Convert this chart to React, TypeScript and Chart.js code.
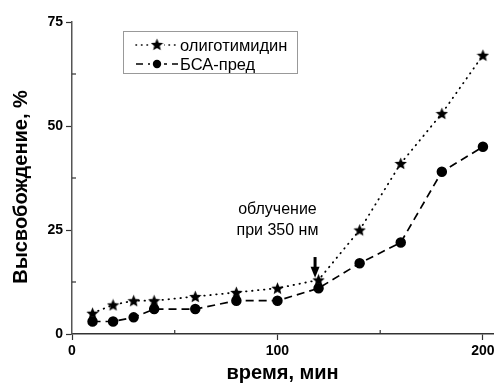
import React, { useEffect, useRef } from "react";
import { Chart, registerables } from "chart.js";

Chart.register(...registerables);

const timeX = [10, 20, 30, 40, 60, 80, 100, 120, 140, 160, 180, 200];
const oligoValues = [5, 7, 8, 8, 9, 10, 11, 13, 25, 41, 53, 67];
const bsaValues = [3, 3, 4, 6, 6, 8, 8, 11, 17, 22, 39, 45];
const xTickValues = [0, 100, 200];
const yTickValues = [0, 25, 50, 75];
const xMinorTicks = [50, 150];
const yMinorTicks = [12.5, 37.5, 62.5];
const seriesNames = ["олиготимидин", "БСА-пред"];
const xTitle = "время, мин";
const yTitle = "Высвобождение, %";
const noteLines = ["облучение", "при 350 нм"];
const noteX = 100;
const noteY = [29.8, 24.8];
const arrowX = 118.3;
const arrowFrom = 18.5;
const arrowTo = 13.5;

const FONT = "'Liberation Sans', Arial, sans-serif";

function makeStar(size: number) {
  const c = document.createElement("canvas");
  c.width = size;
  c.height = size;
  const ctx = c.getContext("2d")!;
  const cx = size / 2;
  const cy = size / 2 + 0.6;
  const R = size / 2;
  const r = R * 0.45;
  ctx.beginPath();
  for (let i = 0; i < 10; i++) {
    const a = -Math.PI / 2 + (i * Math.PI) / 5;
    const rad = i % 2 === 0 ? R : r;
    const x = cx + rad * Math.cos(a);
    const y = cy + rad * Math.sin(a);
    if (i === 0) ctx.moveTo(x, y);
    else ctx.lineTo(x, y);
  }
  ctx.closePath();
  ctx.fillStyle = "#000";
  ctx.fill();
  return c;
}

export default function App() {
  const ref = useRef<HTMLCanvasElement | null>(null);

  useEffect(() => {
    if (!ref.current) return;
    const star = makeStar(13);

    const overlay = {
      id: "overlay",
      afterDatasetsDraw(chart: any) {
        const ctx = chart.ctx;
        const xs = chart.scales.x;
        const ys = chart.scales.y;
        const area = chart.chartArea;
        ctx.save();
        // minor ticks (inward)
        ctx.strokeStyle = "#333";
        ctx.lineWidth = 1.2;
        for (const v of xMinorTicks) {
          const px = xs.getPixelForValue(v);
          ctx.beginPath();
          ctx.moveTo(px, area.bottom);
          ctx.lineTo(px, area.bottom - 4);
          ctx.stroke();
        }
        for (const v of yMinorTicks) {
          const py = ys.getPixelForValue(v);
          ctx.beginPath();
          ctx.moveTo(area.left, py);
          ctx.lineTo(area.left + 4, py);
          ctx.stroke();
        }
        // annotation text
        ctx.fillStyle = "#000";
        ctx.font = `16px ${FONT}`;
        ctx.textAlign = "center";
        ctx.textBaseline = "middle";
        noteLines.forEach((t, i) => {
          ctx.fillText(t, xs.getPixelForValue(noteX), ys.getPixelForValue(noteY[i]));
        });
        // arrow
        const ax = xs.getPixelForValue(arrowX);
        const ay1 = ys.getPixelForValue(arrowFrom);
        const ay2 = ys.getPixelForValue(arrowTo);
        ctx.lineWidth = 3;
        ctx.strokeStyle = "#000";
        ctx.beginPath();
        ctx.moveTo(ax, ay1);
        ctx.lineTo(ax, ay2 - 9);
        ctx.stroke();
        ctx.beginPath();
        ctx.moveTo(ax - 4.5, ay2 - 11);
        ctx.lineTo(ax + 4.5, ay2 - 11);
        ctx.lineTo(ax, ay2);
        ctx.closePath();
        ctx.fill();
        // legend
        const lx = 123.5, ly = 31.5, lw = 174, lh = 42;
        ctx.strokeStyle = "#999";
        ctx.lineWidth = 1;
        ctx.strokeRect(lx, ly, lw, lh);
        const rows = [45, 64];
        ctx.font = `16.5px ${FONT}`;
        ctx.textAlign = "left";
        rows.forEach((ry, i) => {
          ctx.strokeStyle = "#000";
          ctx.lineWidth = 1.6;
          ctx.lineCap = i === 0 ? "round" : "butt";
          ctx.setLineDash(i === 0 ? [0.5, 5] : [7, 5]);
          ctx.beginPath();
          ctx.moveTo(136, ry);
          ctx.lineTo(178, ry);
          ctx.stroke();
          ctx.setLineDash([]);
          ctx.lineCap = "butt";
          ctx.fillStyle = "#fff";
          ctx.fillRect(150, ry - 6, 14, 12);
          if (i === 0) {
            ctx.drawImage(star, 150.5, ry - 7);
          } else {
            ctx.fillStyle = "#000";
            ctx.beginPath();
            ctx.arc(157, ry, 4.2, 0, Math.PI * 2);
            ctx.fill();
          }
          ctx.fillStyle = "#000";
          ctx.fillText(seriesNames[i], 180, ry + 1);
        });
        // titles
        ctx.font = `bold 20px ${FONT}`;
        ctx.textAlign = "center";
        ctx.textBaseline = "middle";
        ctx.fillText(xTitle, (area.left + area.right) / 2, 373);
        ctx.translate(21, 187);
        ctx.rotate(-Math.PI / 2);
        ctx.fillText(yTitle, 0, 0);
        ctx.restore();
      },
    };

    const chart = new Chart(ref.current, {
      type: "line",
      data: {
        datasets: [
          {
            label: seriesNames[0],
            data: timeX.map((x, i) => ({ x, y: oligoValues[i] })),
            borderColor: "#000",
            borderWidth: 1.8,
            borderDash: [0.5, 5.5],
            borderCapStyle: "round",
            pointStyle: star as any,
            pointRadius: 6,
            tension: 0,
          },
          {
            label: seriesNames[1],
            data: timeX.map((x, i) => ({ x, y: bsaValues[i] })),
            borderColor: "#000",
            borderWidth: 1.7,
            borderDash: [8, 5],
            pointStyle: "circle",
            pointRadius: 4.4,
            pointBackgroundColor: "#000",
            pointBorderColor: "#000",
            tension: 0,
          },
        ],
      },
      options: {
        animation: false,
        responsive: true,
        maintainAspectRatio: false,
        layout: { padding: { top: 22, right: 2.6, left: 0, bottom: 0 } },
        plugins: {
          legend: { display: false },
          tooltip: { enabled: false },
        },
        scales: {
          x: {
            type: "linear",
            min: 0,
            max: 205,
            afterBuildTicks: (s: any) => {
              s.ticks = xTickValues.map((v) => ({ value: v }));
            },
            afterFit: (s: any) => {
              s.height = 57;
              s.paddingLeft = 0;
              s.paddingRight = 0;
            },
            grid: {
              drawOnChartArea: false,
              drawTicks: true,
              tickLength: 6,
              tickColor: "#333",
              tickWidth: 1.2,
            },
            border: { display: true, color: "#333", width: 1.5 },
            ticks: {
              color: "#000",
              font: { family: FONT, size: 14, weight: "bold" },
              padding: 3,
              maxRotation: 0,
            },
          },
          y: {
            type: "linear",
            min: 0,
            max: 75,
            afterBuildTicks: (s: any) => {
              s.ticks = yTickValues.map((v) => ({ value: v }));
            },
            afterFit: (s: any) => {
              s.width = 72;
              s.paddingTop = 0;
              s.paddingBottom = 0;
            },
            grid: {
              drawOnChartArea: false,
              drawTicks: true,
              tickLength: 6,
              tickColor: "#333",
              tickWidth: 1.2,
            },
            border: { display: true, color: "#555", width: 1.5 },
            ticks: {
              color: "#000",
              font: { family: FONT, size: 14, weight: "bold" },
              padding: 3,
            },
          },
        },
      },
      plugins: [overlay],
    });
    return () => chart.destroy();
  }, []);

  return (
    <div style={{ position: "fixed", left: 0, top: 0, width: 501, height: 391, background: "#fff" }}>
      <canvas ref={ref} />
    </div>
  );
}
